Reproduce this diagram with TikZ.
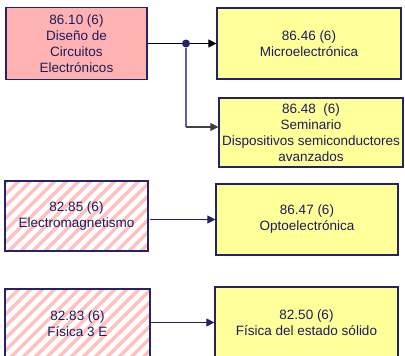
\documentclass[tikz,border=0pt]{standalone}
\usepackage{fontspec}
\setmainfont{Liberation Sans}
\usetikzlibrary{arrows.meta,patterns.meta}

\definecolor{boxline}{RGB}{36,36,100}
\definecolor{boxtext}{RGB}{28,28,92}
\definecolor{pinkfill}{RGB}{255,178,178}
\definecolor{stripe}{RGB}{255,192,192}
\definecolor{yellowfill}{RGB}{255,255,153}
\definecolor{branch}{RGB}{95,95,165}

\begin{document}
\begin{tikzpicture}[x=1pt,y=-1pt,>={Triangle[length=8pt,width=8pt]}]

	\tikzstyle course=[draw=boxline, line width=1.2pt, text=boxtext, align=center, inner sep=0pt, font=\fontsize{13.5}{16}\selectfont];
	\tikzstyle done=[course, fill=pinkfill];
	\tikzstyle open=[course, fill=yellowfill];
	\tikzstyle pending=[course, pattern={Lines[angle=45,distance=8.5pt,line width=3.5pt]}, pattern color=stripe];
	\tikzstyle link=[line width=1.1pt];

	\useasboundingbox (0,0) rectangle (405,356);

	% left column
	\node[done, minimum width=141pt, minimum height=72pt] (c8610) at (76.5,43.5) {86.10 (6)\\Diseño de\\Circuitos\\Electrónicos};
	\node[pending, minimum width=143pt, minimum height=70pt] (c8285) at (76.5,216) {82.85 (6)\\Electromagnetismo};
	\node[pending, minimum width=145pt, minimum height=70pt] (c8283) at (77.5,324) {82.83 (6)\\Física 3 E};

	% right column
	\node[open, minimum width=184pt, minimum height=71pt] (c8646) at (309,43.5) {86.46 (6)\\Microelectrónica};
	\node[open, minimum width=184pt, minimum height=69pt] (c8648) at (311,132.5) {86.48 \ (6)\\Seminario\\Dispositivos semiconductores\\avanzados};
	\node[open, minimum width=182pt, minimum height=71pt] (c8647) at (307,219.5) {86.47 (6)\\Optoelectrónica};
	\node[open, minimum width=183pt, minimum height=71pt] (c8250) at (306.5,322.5) {82.50 (6)\\Física del estado sólido};

	% links
	\node[circle, fill=boxline, inner sep=0pt, minimum size=8pt] (split) at (186,43.5) {};
	\coordinate (in8648) at ([yshift=5.5pt]c8648.west);

	\draw[link] (c8610) -- (split);
	\draw[link,->] (split) -- (c8646);
	\draw[link, branch] (split) -- (split |- in8648);
	\draw[link, black!75,->] (split |- in8648) -- (in8648);
	\draw[link, boxline,->] (c8285.east |- c8647.west) -- (c8647.west);
	\draw[link, boxline,->] (c8283.east |- c8250.west) -- (c8250.west);

\end{tikzpicture}
\end{document}
